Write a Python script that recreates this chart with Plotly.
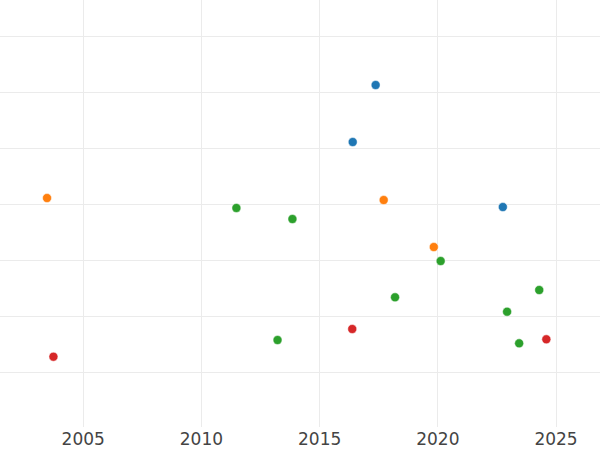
import plotly.graph_objects as go

# Series data (x = year, y = value)
blue_x = [2017.37, 2016.40, 2022.75]
blue_y = [6.125, 5.107, 3.946]

orange_x = [2003.47, 2017.71, 2019.83]
orange_y = [4.107, 4.071, 3.232]

green_x = [2011.48, 2013.85, 2020.12, 2018.19, 2024.29, 2022.93, 2023.44, 2013.22]
green_y = [3.929, 3.732, 2.982, 2.334, 2.464, 2.077, 1.512, 1.571]

red_x = [2003.74, 2016.38, 2024.59]
red_y = [1.273, 1.768, 1.584]

x_ticks = [2005, 2010, 2015, 2020, 2025]

series = [
    ("Series 1", blue_x, blue_y, "#1f77b4"),
    ("Series 2", orange_x, orange_y, "#ff7f0e"),
    ("Series 3", green_x, green_y, "#2ca02c"),
    ("Series 4", red_x, red_y, "#d62728"),
]

fig = go.Figure()
for name, xs, ys, color in series:
    fig.add_trace(go.Scatter(
        x=xs, y=ys, mode="markers", name=name,
        marker=dict(size=9, color=color, line=dict(width=0.5, color="white")),
    ))

fig.update_layout(
    width=600, height=450,
    margin=dict(l=0, r=0, t=0, b=23),
    paper_bgcolor="white", plot_bgcolor="white",
    showlegend=False,
    font=dict(family="DejaVu Sans", size=17, color="#444"),
    xaxis=dict(
        range=[2001.48, 2026.86],
        tickmode="array", tickvals=x_ticks, ticktext=[str(t) for t in x_ticks],
        showgrid=True, gridcolor="#ebebeb", gridwidth=1,
        zeroline=False, showline=False, ticks="",
    ),
    yaxis=dict(
        range=[0.018, 7.643],
        dtick=1, tick0=0,
        showgrid=True, gridcolor="#ebebeb", gridwidth=1,
        showticklabels=False, zeroline=False, showline=False, ticks="",
    ),
)

fig.write_html(
    "out.html",
    config={"displayModeBar": False},
    post_script="document.body.style.margin='0';document.body.style.overflow='hidden';",
)
